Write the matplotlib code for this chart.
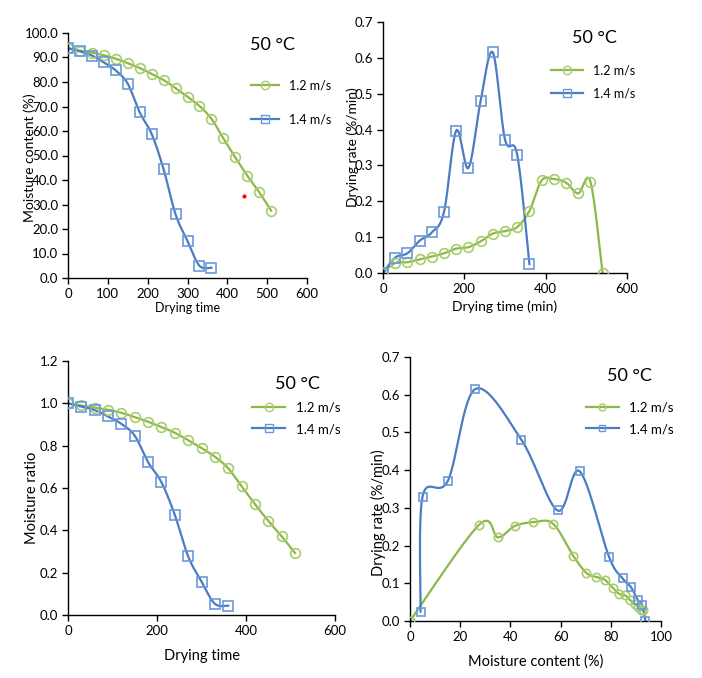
import numpy as np
import matplotlib
matplotlib.use('Agg')
import matplotlib.pyplot as plt
from matplotlib.ticker import FormatStrFormatter

plt.rcParams['font.family'] = ['Lato', 'DejaVu Sans']
plt.rcParams['font.size'] = 9

GREEN = '#8db849'
GREEN_MK = '#a8cc6c'
BLUE = '#4a7cc4'
BLUE_MK = '#6c98d8'

# drying time (min)
time_12 = [0, 30, 60, 90, 120, 150, 180, 210, 240, 270, 300, 330, 360, 390, 420, 450, 480, 510]
time_14 = [0, 30, 60, 90, 120, 150, 180, 210, 240, 270, 300, 330, 360]

# moisture content (%)
mc_12 = [93.8, 92.8, 92.0, 90.9, 89.5, 87.7, 85.7, 83.3, 80.8, 77.5, 74.0, 70.2, 65.0, 57.0, 49.2, 41.8, 35.0, 27.5]
mc_14 = [93.8, 92.5, 90.8, 88.0, 84.7, 79.3, 67.6, 58.8, 44.4, 26.0, 15.1, 5.0, 4.2]
stray_point = (443, 33.5)

# drying rate (%/min) vs time
rate_time_12 = [0, 30, 60, 90, 120, 150, 180, 210, 240, 270, 300, 330, 360, 390, 420, 450, 480, 510, 540]
rate_12 = [0.0, 0.028, 0.030, 0.038, 0.046, 0.055, 0.068, 0.072, 0.088, 0.110, 0.117, 0.128, 0.173,
           0.258, 0.262, 0.252, 0.222, 0.255, 0.0]
rate_time_14 = [0, 30, 60, 90, 120, 150, 180, 210, 240, 270, 300, 330, 360]
rate_14 = [0.0, 0.043, 0.055, 0.090, 0.113, 0.170, 0.397, 0.293, 0.480, 0.615, 0.372, 0.330, 0.025]

# moisture ratio
mr_12 = [1.0, 0.99, 0.98, 0.97, 0.955, 0.935, 0.913, 0.888, 0.861, 0.826, 0.789, 0.748, 0.693,
         0.608, 0.524, 0.445, 0.372, 0.293]
mr_14 = [1.0, 0.985, 0.968, 0.938, 0.903, 0.847, 0.722, 0.627, 0.473, 0.277, 0.158, 0.053, 0.044]

# drying rate vs moisture content
dr_mc_12 = [0.0, 27.5, 35.0, 41.8, 49.2, 57.0, 65.0, 70.2, 74.0, 77.5, 80.8, 83.3, 85.7, 87.7, 89.5, 90.9, 92.0, 92.8]
dr_rate_12 = [0.0, 0.255, 0.222, 0.252, 0.262, 0.258, 0.173, 0.128, 0.117, 0.110, 0.088, 0.072,
              0.068, 0.055, 0.046, 0.038, 0.030, 0.028]
dr_mc_14 = [4.2, 5.0, 15.1, 26.0, 44.4, 58.8, 67.6, 79.3, 84.7, 88.0, 90.8, 92.5, 93.8]
dr_rate_14 = [0.025, 0.330, 0.372, 0.615, 0.480, 0.293, 0.397, 0.170, 0.113, 0.090, 0.055, 0.043, 0.0]

labels = ['1.2 m/s', '1.4 m/s']


def smooth(x, y, n=30, t=1/6):
    # Excel-like smoothed line: cubic bezier through the points
    x = np.asarray(x, float); y = np.asarray(y, float)
    P = np.column_stack([x, y])
    m = len(P)
    out = [P[0]]
    for i in range(m - 1):
        p0 = P[i - 1] if i > 0 else P[i]
        p1, p2 = P[i], P[i + 1]
        p3 = P[i + 2] if i + 2 < m else P[i + 1]
        c1 = p1 + (p2 - p0) * t
        c2 = p2 - (p3 - p1) * t
        s = np.linspace(0, 1, n)[1:, None]
        seg = ((1 - s) ** 3) * p1 + 3 * ((1 - s) ** 2) * s * c1 + 3 * (1 - s) * s ** 2 * c2 + s ** 3 * p2
        out.extend(seg)
    out = np.array(out)
    return out[:, 0], out[:, 1]


def draw(ax, x, y, color, mcol, marker, label, ms):
    sx, sy = smooth(x, y)
    ax.plot(sx, sy, color=color, lw=1.6, zorder=2)
    ax.plot(x, y, ls='none', marker=marker, ms=ms, mfc='none', mec=mcol, mew=1.2, zorder=3)
    ax.plot([], [], color=color, lw=1.6, marker=marker, ms=ms - 1, mfc='none', mec=mcol,
            mew=1.0, label=label)


def style(ax, xlim, xstep, ylim, ystep, fmt):
    for s in ['top', 'right']:
        ax.spines[s].set_visible(False)
    for s in ['left', 'bottom']:
        ax.spines[s].set_color('#000000')
        ax.spines[s].set_linewidth(1.0)
    ax.set_xlim(*xlim)
    ax.set_ylim(*ylim)
    ax.set_xticks(np.arange(xlim[0], xlim[1] + 0.001, xstep))
    ax.set_yticks(np.arange(ylim[0], ylim[1] + 0.0001, ystep))
    ax.yaxis.set_major_formatter(FormatStrFormatter(fmt))
    ax.tick_params(direction='out', length=4, width=1.0, labelsize=9.5, pad=3)
    for lab in ax.get_xticklabels() + ax.get_yticklabels():
        lab.set_clip_on(False)


W, H = 702, 678
fig = plt.figure(figsize=(W / 100, H / 100), dpi=100)


def axes_px(x0, y0, x1, y1):
    return fig.add_axes([x0 / W, 1 - y1 / H, (x1 - x0) / W, (y1 - y0) / H])


# panel 1: moisture content
ax1 = axes_px(68, 33, 307, 278)
draw(ax1, time_12, mc_12, GREEN, GREEN_MK, 'o', labels[0], 7)
draw(ax1, time_14, mc_14, BLUE, BLUE_MK, 's', labels[1], 7)
ax1.plot([stray_point[0]], [stray_point[1]], 'o', color='red', ms=2)
style(ax1, (0, 600), 100, (0, 100), 10, '%.1f')
ax1.set_xlabel('Drying time', fontsize=9)
ax1.xaxis.set_label_coords(0.5, -0.1)
ax1.set_ylabel('Moisture content (%)', fontsize=10)
ax1.yaxis.set_label_coords(-0.134, 0.49)
ax1.text(0.76, 0.93, '50 °C', transform=ax1.transAxes, fontsize=13)
ax1.legend(loc='upper left', bbox_to_anchor=(0.745, 0.83), frameon=False, handlelength=2.2,
           labelspacing=1.75, fontsize=9, borderaxespad=0)

# panel 2: drying rate vs time
ax2 = axes_px(383, 22, 627, 273)
draw(ax2, rate_time_12, rate_12, GREEN, GREEN_MK, 'o', labels[0], 7)
draw(ax2, rate_time_14, rate_14, BLUE, BLUE_MK, 's', labels[1], 7)
style(ax2, (0, 600), 200, (0, 0.7), 0.1, '%.1f')
ax2.set_xlabel('Drying time (min)', fontsize=10)
ax2.xaxis.set_label_coords(0.5, -0.11)
ax2.set_ylabel('Drying rate (%/min)', fontsize=10)
ax2.yaxis.set_label_coords(-0.098, 0.5)
ax2.text(0.775, 0.915, '50 °C', transform=ax2.transAxes, fontsize=13)
ax2.legend(loc='upper left', bbox_to_anchor=(0.67, 0.85), frameon=False, handlelength=2.5,
           labelspacing=0.85, fontsize=9, borderaxespad=0)

# panel 3: moisture ratio
ax3 = axes_px(68, 361, 335, 615)
draw(ax3, time_12, mr_12, GREEN, GREEN_MK, 'o', labels[0], 7)
draw(ax3, time_14, mr_14, BLUE, BLUE_MK, 's', labels[1], 7)
style(ax3, (0, 600), 200, (0, 1.2), 0.2, '%.1f')
ax3.set_xlabel('Drying time', fontsize=10.5)
ax3.xaxis.set_label_coords(0.5, -0.135)
ax3.set_ylabel('Moisture ratio', fontsize=10.5)
ax3.yaxis.set_label_coords(-0.108, 0.46)
ax3.text(0.775, 0.89, '50 °C', transform=ax3.transAxes, fontsize=13)
ax3.legend(loc='upper left', bbox_to_anchor=(0.67, 0.86), frameon=False, handlelength=2.5,
           labelspacing=0.7, fontsize=9.5, borderaxespad=0)

# panel 4: drying rate vs moisture content
ax4 = axes_px(410, 357, 661, 621)
draw(ax4, dr_mc_12, dr_rate_12, GREEN, GREEN_MK, 'o', labels[0], 6)
draw(ax4, dr_mc_14, dr_rate_14, BLUE, BLUE_MK, 's', labels[1], 6)
style(ax4, (0, 100), 20, (0, 0.7), 0.1, '%.1f')
ax4.set_xlabel('Moisture content (%)', fontsize=10.5)
ax4.xaxis.set_label_coords(0.5, -0.125)
ax4.set_ylabel('Drying rate (%/min)', fontsize=10.5)
ax4.yaxis.set_label_coords(-0.096, 0.41)
ax4.text(0.785, 0.91, '50 °C', transform=ax4.transAxes, fontsize=13)
ax4.legend(loc='upper left', bbox_to_anchor=(0.68, 0.85), frameon=False, handlelength=2.5,
           labelspacing=0.7, fontsize=9.5, borderaxespad=0)

fig.savefig('out.png', dpi=100)
